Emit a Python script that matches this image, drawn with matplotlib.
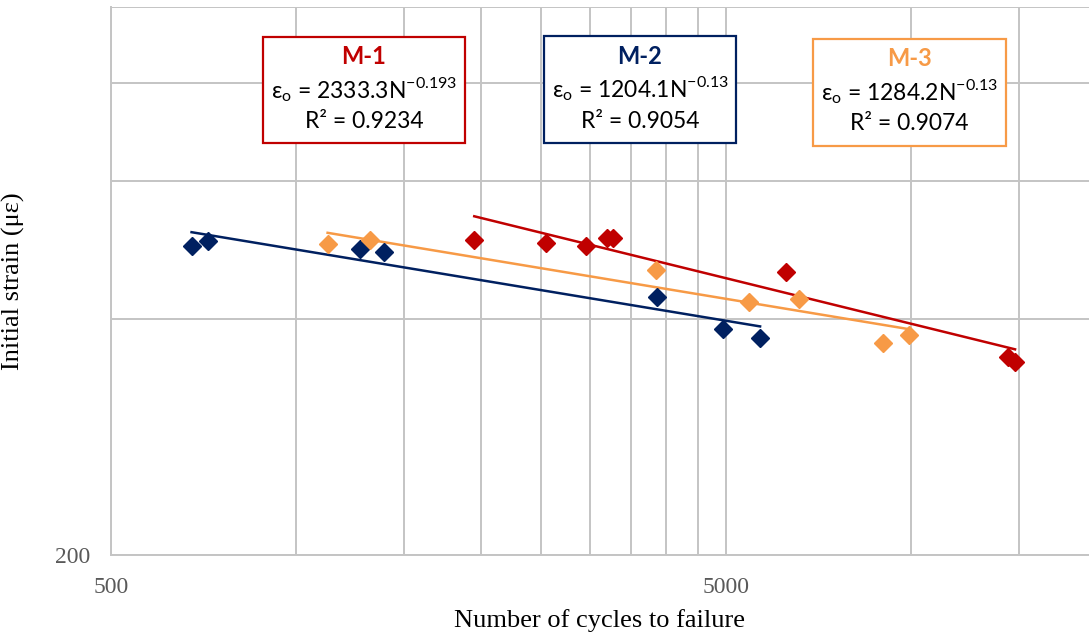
import matplotlib
matplotlib.use("Agg")
import matplotlib.pyplot as plt
import matplotlib.ticker as ticker
from matplotlib.patches import Rectangle
import numpy as np

# data (cycles to failure, initial strain in microstrain)
m1_cycles = [1948, 2548, 2957, 3198, 3279, 6254, 14370, 14753]
m1_strain = [505, 500, 495, 508, 508, 459, 358, 353]
m2_cycles = [676, 720, 1270, 1391, 3857, 4938, 5680]
m2_strain = [495, 503, 492, 487, 427, 388, 378]
m3_cycles = [1125, 1318, 3846, 5456, 6579, 9011, 9922]
m3_strain = [499, 504, 462, 421, 424, 373, 382]

# power trendlines shown in the chart: eps = a * N^b
m1_fit = (2333.3, -0.193, 0.9234)
m2_fit = (1204.1, -0.13, 0.9054)
m3_fit = (1284.2, -0.13, 0.9074)

x_ticks = [500, 5000]
y_ticks = [200]
x_minor = [1000, 1500, 2000, 2500, 3000, 3500, 4000, 4500, 10000, 15000]
y_minor = [400, 600, 800, 1000]

RED = "#C00000"
NAVY = "#002060"
ORANGE = "#F79A46"
GRID = "#C4C4C4"

W, H = 1089, 637
fig = plt.figure(figsize=(W / 100, H / 100), dpi=100)
ax = fig.add_axes([111 / W, (H - 555) / H, (W - 111) / W, (555 - 7) / H])

ax.set_xscale("log")
ax.set_yscale("log")
ax.set_xlim(500, 19460)
ax.set_ylim(200, 1000)

series = [
    (m2_cycles, m2_strain, m2_fit, NAVY),
    (m3_cycles, m3_strain, m3_fit, ORANGE),
    (m1_cycles, m1_strain, m1_fit, RED),
]
for xs, ys, (a, b, r2), col in series:
    xs = np.array(xs, dtype=float)
    xt = np.array([xs.min(), xs.max()])
    ax.plot(xt, a * xt ** b, color=col, lw=1.8, zorder=3)
    ax.plot(xs, ys, linestyle="none", marker="D", ms=9.5, color=col, zorder=4)

ax.xaxis.set_major_locator(ticker.FixedLocator(x_ticks))
ax.yaxis.set_major_locator(ticker.FixedLocator(y_ticks))
ax.xaxis.set_minor_locator(ticker.FixedLocator(x_minor))
ax.yaxis.set_minor_locator(ticker.FixedLocator(y_minor))
ax.xaxis.set_major_formatter(ticker.FixedFormatter([str(v) for v in x_ticks]))
ax.yaxis.set_major_formatter(ticker.FixedFormatter([str(v) for v in y_ticks]))
ax.xaxis.set_minor_formatter(ticker.NullFormatter())
ax.yaxis.set_minor_formatter(ticker.NullFormatter())
ax.tick_params(which="both", length=0)
ax.tick_params(axis="x", pad=16)
ax.tick_params(axis="y", pad=15)
for lab in ax.get_xticklabels() + ax.get_yticklabels():
    lab.set_fontfamily("Liberation Serif")
    lab.set_fontsize(17)
    lab.set_color("#595959")

ax.grid(True, which="both", color=GRID, lw=1.4, zorder=0)
ax.set_axisbelow(True)
for s in ["top", "right"]:
    ax.spines[s].set_visible(False)
for s in ["left", "bottom"]:
    ax.spines[s].set_color(GRID)
    ax.spines[s].set_linewidth(1.4)

ax.set_xlabel("Number of cycles to failure", fontfamily="Liberation Serif",
              fontsize=19, labelpad=8)
ax.set_ylabel("Initial strain (με)", fontfamily="Liberation Serif",
              fontsize=19)
ax.yaxis.set_label_coords(-0.088, 0.5)

# equation boxes (pixel boxes of the reference)
boxes = [
    ("M-1", m1_fit, RED, (263, 37, 465, 143)),
    ("M-2", m2_fit, NAVY, (544, 36, 736, 143)),
    ("M-3", m3_fit, ORANGE, (813, 39, 1006, 146)),
]
for name, (a, b, r2), col, (x0, y0, x1, y1) in boxes:
    fig.add_artist(Rectangle((x0 / W, 1 - y1 / H), (x1 - x0) / W, (y1 - y0) / H,
                             transform=fig.transFigure, fill=True,
                             facecolor="white", edgecolor=col, lw=1.6, zorder=5))
    cx = (x0 + x1) / 2 / W
    fig.text(cx, 1 - (y0 + 20) / H, name, color=col, fontfamily="Lato",
             fontweight="bold", fontsize=17, ha="center", va="center", zorder=6)
    eq = r"ε$_\mathregular{o}$ = %sN$^{\mathregular{%s}}$" % (f"{a}", f"{b}")
    fig.text(cx, 1 - (y0 + 53) / H, eq, color="black", fontfamily="Lato",
             fontsize=16.5, ha="center", va="center", zorder=6)
    fig.text(cx, 1 - (y0 + 85) / H, f"R² = {r2}", color="black",
             fontfamily="Lato", fontsize=16.5, ha="center", va="center", zorder=6)

fig.savefig("out.png", dpi=100)
